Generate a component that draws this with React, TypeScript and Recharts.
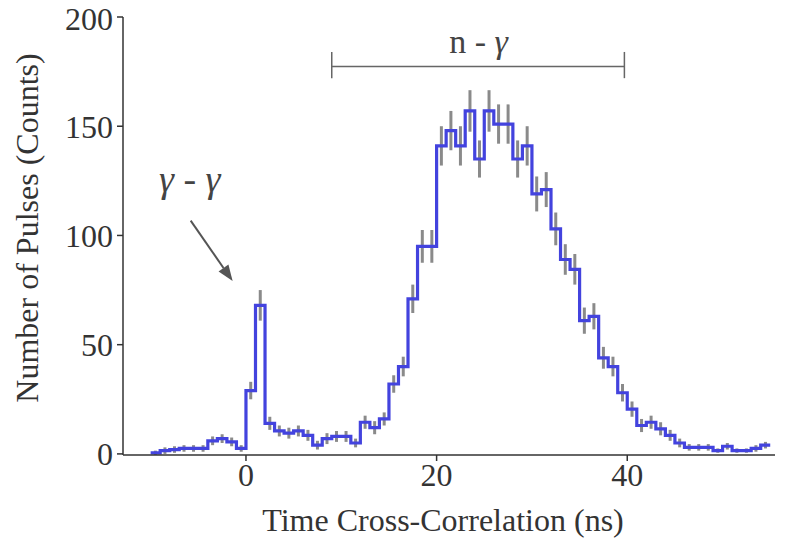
import React from "react";
import { ComposedChart, Line, XAxis, YAxis, ErrorBar, ReferenceLine, ReferenceDot } from "recharts";

// 1 ns bins, left edge of each bin
const binStart = [
  -10, -9, -8, -7, -6, -5, -4, -3, -2, -1,
  0, 1, 2, 3, 4, 5, 6, 7, 8, 9,
  10, 11, 12, 13, 14, 15, 16, 17, 18, 19,
  20, 21, 22, 23, 24, 25, 26, 27, 28, 29,
  30, 31, 32, 33, 34, 35, 36, 37, 38, 39,
  40, 41, 42, 43, 44, 45, 46, 47, 48, 49,
  50, 51, 52, 53, 54,
];
const counts = [
  0.5, 1.5, 2, 2.5, 2.5, 2.5, 6, 7, 5.5, 2.5,
  29, 68, 14, 10.5, 9.5, 10.5, 8.5, 4, 7, 8,
  8, 5, 14.5, 12, 16, 32, 40, 71, 95, 95,
  141, 148, 141, 157, 135, 157, 151, 151, 135, 141,
  119, 121, 103, 89, 84.5, 61, 63, 44, 40, 28,
  20.5, 13, 14.5, 11.5, 8.5, 5, 3, 3, 3, 1.5,
  3.5, 1.5, 1.5, 2.5, 4,
];
const errors = [
  1, 1.5, 1.5, 1.5, 1.5, 1.5, 2, 2, 2, 1.5,
  4, 7, 3, 2.5, 2.5, 2.5, 2.5, 2, 2.5, 2.5,
  2.5, 2, 3, 3, 3, 4, 4.5, 6.5, 7.5, 7.5,
  9, 9, 9, 9.5, 8.5, 9.5, 9, 9, 8.5, 9,
  8, 8, 7.5, 7, 7, 6, 6, 5, 4.5, 4,
  3.5, 3, 3, 3, 2.5, 2, 1.5, 1.5, 1.5, 1,
  1.5, 1, 1, 1.5, 1.5,
];
const binEnd = 55;

const xTicks = [0, 20, 40];
const yTicks = [0, 50, 100, 150, 200];

// annotations (data units)
const nGammaRange = [9, 39.7];
const nGammaY = 177.3;
const arrowFrom = { x: -5.8, y: 106.8 };
const arrowTo = { x: -1.4, y: 79.1 };

const stepData = [
  ...binStart.map((x, i) => ({ x, y: counts[i] })),
  { x: binEnd, y: counts[counts.length - 1] },
];
const errData = binStart.map((x, i) => ({ x: x + 0.5, y: counts[i], err: errors[i] }));

const SERIF = "'Liberation Serif', 'Times New Roman', serif";
const INK = "#333";

const Arrow = (p: any) => {
  const { x1, y1, x2, y2 } = p;
  const ang = Math.atan2(y2 - y1, x2 - x1);
  const len = 16, half = 6;
  const bx = x2 - len * Math.cos(ang), by = y2 - len * Math.sin(ang);
  const px = -Math.sin(ang) * half, py = Math.cos(ang) * half;
  return (
    <g>
      <line x1={x1} y1={y1} x2={bx} y2={by} stroke="#555" strokeWidth={2} />
      <polygon points={`${x2},${y2} ${bx + px},${by + py} ${bx - px},${by - py}`} fill="#555" />
    </g>
  );
};

export default function App() {
  return (
    <div style={{ position: "absolute", left: 0, top: 0, background: "#fff" }}>
      <ComposedChart width={787} height={542} margin={{ top: 17, right: 12, left: 0, bottom: 0 }}>
        <XAxis dataKey="x" type="number" domain={[-12.9, 55.5]} ticks={xTicks} allowDataOverflow
          height={87} tickSize={6} tickMargin={2} stroke={INK} strokeWidth={1.5}
          tick={{ fontSize: 32, fill: INK, fontFamily: SERIF }}
          label={({ viewBox }: any) => (
            <text x={443} y={viewBox.y + 76} textAnchor="middle" fontSize={32} fill={INK} fontFamily={SERIF}>
              Time Cross-Correlation (ns)
            </text>
          )} />
        <YAxis type="number" domain={[0, 200]} ticks={yTicks} width={123} tickSize={6} tickMargin={4}
          stroke={INK} strokeWidth={1.5} tick={{ fontSize: 32, fill: INK, fontFamily: SERIF }}
          label={() => {
            const cx = 27, cy = 228;
            return (
              <text x={cx} y={cy} textAnchor="middle" dominantBaseline="central" fontSize={32} fill={INK}
                fontFamily={SERIF} transform={`rotate(-90 ${cx} ${cy})`}>
                Number of Pulses (Counts)
              </text>
            );
          }} />
        <Line data={errData} dataKey="y" stroke="none" dot={false} isAnimationActive={false}>
          <ErrorBar dataKey="err" width={0} stroke="#8a8a8a" strokeWidth={3} />
        </Line>
        <Line data={stepData} dataKey="y" type="stepAfter" stroke="#4343de" strokeWidth={3.2}
          dot={false} isAnimationActive={false} />
        <ReferenceLine segment={[{ x: nGammaRange[0], y: nGammaY }, { x: nGammaRange[1], y: nGammaY }]}
          stroke="#666" strokeWidth={1.5} />
        <ReferenceLine segment={[{ x: nGammaRange[0], y: 172 }, { x: nGammaRange[0], y: 184 }]}
          stroke="#666" strokeWidth={1.5} />
        <ReferenceLine segment={[{ x: nGammaRange[1], y: 172 }, { x: nGammaRange[1], y: 184 }]}
          stroke="#666" strokeWidth={1.5} />
        <ReferenceDot x={24.4} y={183.6} r={0} fill="none" stroke="none"
          label={({ viewBox }: any) => (
            <text x={viewBox.x} y={viewBox.y} textAnchor="middle" fontSize={34} fill="#444" fontFamily={SERIF}>
              n - <tspan fontStyle="italic">γ</tspan>
            </text>
          )} />
        <ReferenceLine segment={[arrowFrom, arrowTo]} shape={Arrow} />
        <ReferenceDot x={-5.9} y={120} r={0} fill="none" stroke="none"
          label={({ viewBox }: any) => (
            <text x={viewBox.x} y={viewBox.y} textAnchor="middle" fontSize={38} fill="#444"
              fontFamily={SERIF} fontStyle="italic">
              γ - γ
            </text>
          )} />
      </ComposedChart>
    </div>
  );
}
